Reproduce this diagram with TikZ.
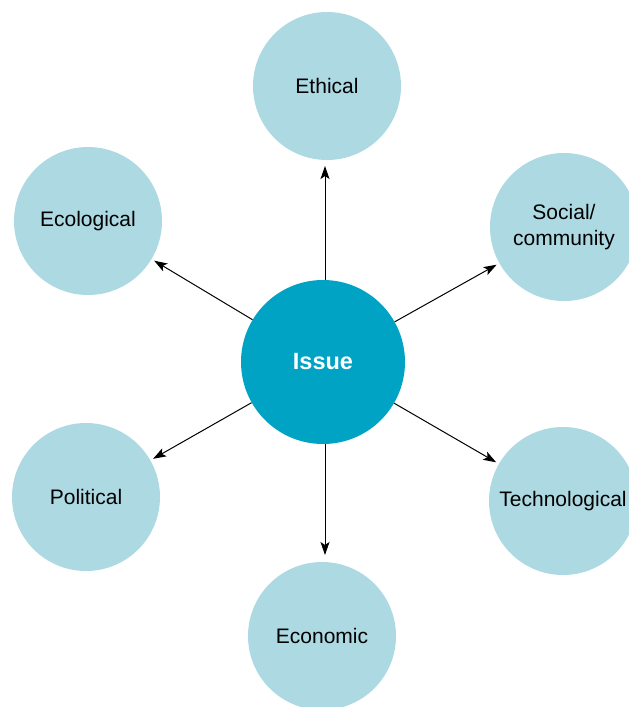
\documentclass[tikz,border=0pt]{standalone}
\usepackage{fontspec}
\setmainfont{Liberation Sans}
\usetikzlibrary{arrows.meta}
\definecolor{lightc}{RGB}{173,217,227}
\definecolor{issuec}{RGB}{0,163,196}
\begin{document}
\begin{tikzpicture}[x=1pt,y=-1pt,
  topic/.style={circle,fill=lightc,minimum size=148pt,inner sep=0pt,align=center,
    font=\fontsize{21}{26}\selectfont},
  hub/.style={circle,fill=issuec,minimum size=164pt,inner sep=0pt,text=white,
    font=\fontsize{23.5}{26}\selectfont\bfseries},
  conn/.style={draw=black,line width=1pt,-{Stealth[length=13pt,width=9pt,inset=3pt]},shorten >=3pt}]
\useasboundingbox (0,0) rectangle (629,707);
\begin{scope}
\clip (0,0) rectangle (629,707);
\node[hub] (issue) at (323,362) {Issue};
\node[topic] (eth) at (327,86) {Ethical};
\node[topic] (eco) at (88,221) {Ecological};
\node[topic] (soc) at (564,227) {Social/\\community};
\node[topic] (pol) at (86,497) {Political};
\node[topic] (tech) at (563,501) {Technological};
\node[topic] (econ) at (322,636) {Economic};
\end{scope}
\draw[conn] (issue.north -| 325,0) -- (325,163);
\draw[conn] (issue) -- (eco);
\draw[conn] (issue) -- (soc);
\draw[conn] (issue) -- (pol);
\draw[conn] (issue) -- (tech);
\draw[conn] (issue.south -| 325,0) -- (325,558);
\end{tikzpicture}
\end{document}
